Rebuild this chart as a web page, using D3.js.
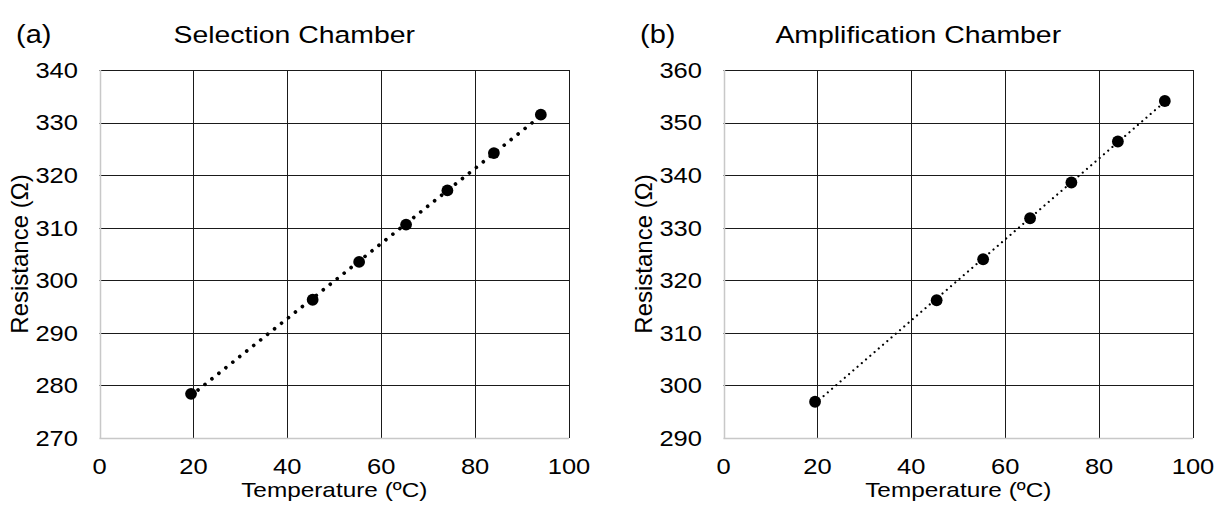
<!DOCTYPE html>
<html>
<head>
<meta charset="utf-8">
<script src="https://cdn.jsdelivr.net/npm/d3@7"></script>
<style>
  html, body { margin: 0; padding: 0; background: #fff; }
  svg { display: block; font-family: "Liberation Sans", Arial, sans-serif; }
</style>
</head>
<body>
<svg id="chart" width="1216" height="512"></svg>
<script>
// Temperature set-points (ºC), shared by both chambers
const temperatures = [19.5, 45.4, 55.3, 65.3, 74.1, 84.0, 94.0];
// Measured heater resistance (Ω)
const selectionResistance = [278.4, 296.3, 303.5, 310.6, 317.1, 324.2, 331.5];
const amplificationResistance = [296.9, 316.2, 324.0, 331.8, 338.6, 346.4, 354.1];

const xTicks = [0, 20, 40, 60, 80, 100];
const selectionTicks = [270, 280, 290, 300, 310, 320, 330, 340];
const amplificationTicks = [290, 300, 310, 320, 330, 340, 350, 360];

const panels = [
  { tag: "(a)", title: "Selection Chamber", values: selectionResistance, yTicks: selectionTicks,
    left: 99.5, dot: { width: 3.7, gap: 8.9 } },
  { tag: "(b)", title: "Amplification Chamber", values: amplificationResistance, yTicks: amplificationTicks,
    left: 723.5, dot: { width: 2.2, gap: 5.6 } }
];

const svg = d3.select("#chart");
const plotW = 469.5, plotTop = 70, plotBottom = 438;
const stretch = 1.16; // text is drawn slightly wide

function label(g, x, y, text, size, anchor, rotate) {
  return g.append("text")
    .attr("transform", `translate(${x},${y})` + (rotate ? " rotate(-90)" : ` scale(${stretch},1)`))
    .attr("text-anchor", anchor)
    .attr("font-size", size)
    .attr("fill", "#000")
    .text(text);
}

// least-squares fit for the trendline
function fit(xs, ys) {
  const mx = d3.mean(xs), my = d3.mean(ys);
  const sxy = d3.sum(xs, (x, i) => (x - mx) * (ys[i] - my));
  const sxx = d3.sum(xs, x => (x - mx) * (x - mx));
  const b = sxy / sxx;
  return { slope: b, intercept: my - b * mx };
}

panels.forEach(p => {
  const g = svg.append("g");
  const x = d3.scaleLinear().domain([0, 100]).range([p.left, p.left + plotW]);
  const y = d3.scaleLinear().domain(d3.extent(p.yTicks)).range([plotBottom, plotTop]);
  const cx = p.left + plotW / 2;

  // gridlines
  g.append("g").selectAll("line").data(p.yTicks.slice(1)).join("line")
    .attr("x1", x(0)).attr("x2", x(100))
    .attr("y1", d => Math.round(y(d)) + 0.5).attr("y2", d => Math.round(y(d)) + 0.5)
    .attr("stroke", "#1a1a1a").attr("stroke-width", 1);
  g.append("g").selectAll("line").data(xTicks.slice(1)).join("line")
    .attr("x1", d => Math.round(x(d)) + 0.5).attr("x2", d => Math.round(x(d)) + 0.5)
    .attr("y1", plotTop).attr("y2", plotBottom)
    .attr("stroke", "#1a1a1a").attr("stroke-width", 1);

  // axis lines (left and bottom)
  g.append("line")
    .attr("x1", Math.round(x(0)) + 0.5).attr("x2", Math.round(x(0)) + 0.5)
    .attr("y1", plotTop).attr("y2", plotBottom + 1)
    .attr("stroke", "#c8c8c8").attr("stroke-width", 1.5);
  g.append("line")
    .attr("x1", x(0)).attr("x2", x(100))
    .attr("y1", Math.round(plotBottom) + 0.5).attr("y2", Math.round(plotBottom) + 0.5)
    .attr("stroke", "#c8c8c8").attr("stroke-width", 1.5);

  // tick labels
  p.yTicks.forEach(t => label(g, p.left - 21.5, y(t) + 7.8, String(t), 22, "end"));
  xTicks.forEach(t => label(g, x(t), 473.5, String(t), 22, "middle"));

  // axis titles
  label(g, cx, 497, "Temperature (ºC)", 21, "middle");
  label(g, p.left - 71.5, (plotTop + plotBottom) / 2, "Resistance (Ω)", 24, "middle", true);

  // panel tag and title
  label(g, p.left - 83.5, 42.5, p.tag, 25, "start");
  label(g, cx - 40, 42.5, p.title, 24.5, "middle");

  // dotted linear trendline
  const f = fit(temperatures, p.values);
  const x0 = d3.min(temperatures), x1 = d3.max(temperatures);
  g.append("line")
    .attr("x1", x(x0)).attr("y1", y(f.intercept + f.slope * x0))
    .attr("x2", x(x1)).attr("y2", y(f.intercept + f.slope * x1))
    .attr("stroke", "#000").attr("stroke-width", p.dot.width)
    .attr("stroke-linecap", "round")
    .attr("stroke-dasharray", `0.01 ${p.dot.gap}`);

  // data points
  g.append("g").selectAll("circle").data(temperatures).join("circle")
    .attr("cx", d => x(d))
    .attr("cy", (d, i) => y(p.values[i]))
    .attr("r", 5.9)
    .attr("fill", "#000");
});
</script>
</body>
</html>
